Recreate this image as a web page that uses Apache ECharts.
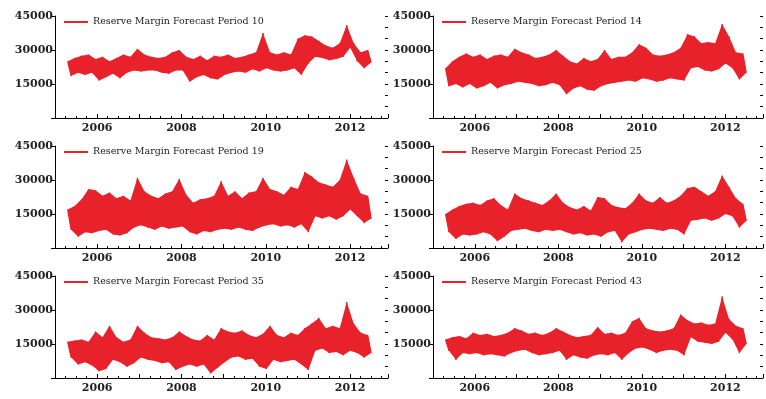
<!DOCTYPE html>
<html><head><meta charset="utf-8">
<script src="https://cdn.jsdelivr.net/npm/echarts@6/dist/echarts.min.js"></script>
<style>html,body{margin:0;padding:0;background:#fff}#c{width:766px;height:399px}</style>
</head><body><div id="c"></div>
<script>
const periods = [10, 14, 19, 25, 35, 43];
const yearTicks = [2006, 2008, 2010, 2012];
const yTickLabels = [15000, 30000, 45000];
const startYear = 2005.3, endYear = 2012.5;

// upper / lower envelope of each series, read about every two months
const hi10 = [25000,26500,27500,28000,26000,27000,25000,26500,28000,27000,30500,28000,27000,26500,27000,29000,30000,27000,26000,27500,25500,27500,27000,28000,26500,27000,28000,29000,37500,29000,28000,29000,28000,35000,36500,36000,34000,32000,31000,33000,41000,33000,29000,30000];
const lo10 = [18500,20000,19000,20000,16500,18000,19500,17500,20000,21000,20500,21000,21000,20000,19500,21000,21000,16000,18000,19000,17500,17000,19000,20000,20500,20000,21500,20500,22000,21000,20500,21000,22000,19000,24000,27000,26500,25500,26000,27000,31000,25000,22000,24500];
const hi14 = [22000,25000,27000,28500,27000,28000,26000,27500,28000,27000,30500,29000,28000,26500,27000,28000,30000,27500,25000,24000,26500,25000,26000,30000,26000,27000,27000,29000,32500,31000,28000,27500,28000,29000,31000,37000,36000,33000,33500,33000,41500,36000,29000,28500];
const lo14 = [14000,15000,13500,15000,13000,14000,15500,13000,14500,15000,16000,15500,15000,14000,14500,15500,14500,10500,13000,14000,12500,12000,14000,15000,15500,16000,16500,16000,17500,17000,16000,16500,17500,17000,16500,22000,22500,21000,20500,21500,24000,22000,17000,20000];
const hi19 = [17000,18500,21500,26000,25500,23000,24500,22000,23000,21000,31000,25000,23000,22000,24000,25000,30500,23500,20000,21500,22000,23000,29500,23000,25000,22000,24500,25000,31000,26000,25000,23500,27000,26000,33500,31500,29000,28000,27000,30000,39000,31000,24000,23000];
const lo19 = [8000,5000,7000,6500,7500,8000,6000,5500,6500,9000,10000,9000,8000,9500,8500,9000,9500,7000,6000,7500,7000,8000,8500,8000,9000,8000,7500,9000,10000,10500,9500,10000,9000,10500,7000,14000,13000,14000,12500,14000,17000,14000,11000,13000];
const hi25 = [15000,17000,18500,19500,20000,19000,21000,22000,19000,17000,24000,22000,21000,20000,19000,21000,24000,20000,18000,17000,18500,16500,22500,22000,19000,18000,17500,20000,24000,21000,20000,22500,20000,21000,23000,26500,27000,25000,23000,25000,32000,27000,22000,19500];
const lo25 = [7000,4000,6000,5500,6000,7000,6000,3000,5000,7500,8000,8500,7500,7000,8000,7500,8000,7000,6000,6500,5500,6000,5000,7000,7500,2500,6000,7000,8000,8500,8000,7500,8500,8000,6000,12000,12500,13000,12000,13000,15000,14000,9000,12000];
const hi35 = [16000,16500,17000,16000,20500,18000,23000,18000,16000,17000,23000,20000,18000,17500,17000,18000,20500,18500,17000,16500,19000,17000,22000,20500,20000,21000,19000,18000,19500,23000,19000,18000,20000,19000,22000,24000,26500,22000,23000,22000,33500,24000,20000,19000];
const lo35 = [9000,6000,7000,5500,3000,4000,8000,7000,5000,6500,9000,8000,7500,6500,7000,3500,5000,6000,5000,6000,2000,4500,7000,9000,9500,8000,8500,5000,4000,8000,7000,7500,8000,6000,3500,12000,13000,11000,11500,10000,12000,11000,9000,11000];
const hi43 = [17000,18000,18500,17500,20000,19000,19500,18500,19000,20000,22000,21000,19500,20000,19000,20000,22000,20500,19000,18000,18500,19000,22500,19500,20000,19000,20000,25000,26500,22000,21000,20500,21000,22000,28000,25500,24000,24500,23500,24000,36000,26000,23000,22000];
const lo43 = [12000,8000,11000,10500,11000,10000,10500,10000,9500,11000,12000,12500,11000,10000,10500,11000,12000,8000,10000,9000,8500,10000,10500,10000,11000,8000,11000,13000,13500,12500,11000,12000,12500,12000,10000,18000,16000,15500,15000,16000,20000,17000,11000,15000];

const highs = [hi10, hi14, hi19, hi25, hi35, hi43];
const lows = [lo10, lo14, lo19, lo25, lo35, lo43];

const RED = '#e8222b';
const FONT = 'DejaVu Serif';
const lefts = [55, 433], tops = [16, 146, 276], W = 333, H = 102;
const grid = [], xAxis = [], yAxis = [], series = [], legend = [];

periods.forEach((p, k) => {
  const col = k % 2, row = Math.floor(k / 2);
  const name = 'Reserve Margin Forecast Period ' + p;
  grid.push({ left: lefts[col], top: tops[row], width: W, height: H });
  xAxis.push({
    type: 'value', gridIndex: k, min: 2005, max: 2012.9, interval: 1,
    axisLine: { lineStyle: { color: '#000', width: 1 } },
    axisTick: { inside: true, length: 4, lineStyle: { color: '#000' } },
    minorTick: { show: true, splitNumber: 4, length: 2, lineStyle: { color: '#000' } },
    splitLine: { show: false },
    axisLabel: {
      margin: 5, color: '#222', fontFamily: FONT, fontWeight: 'bold', fontSize: 11,
      formatter: v => (yearTicks.includes(Math.round(v)) && Math.abs(v - Math.round(v)) < 1e-6) ? String(Math.round(v)) : ''
    }
  });
  yAxis.push({
    type: 'value', gridIndex: k, min: 0, max: 45000, interval: 15000,
    axisLine: { show: true, lineStyle: { color: '#000', width: 1 } },
    axisTick: { show: true, inside: false, length: 4, lineStyle: { color: '#000' } },
    splitLine: { show: false },
    axisLabel: {
      margin: 2, color: '#222', fontFamily: FONT, fontWeight: 'bold', fontSize: 11,
      formatter: v => yTickLabels.includes(v) ? String(v) : ''
    }
  });
  yAxis.push({
    type: 'value', gridIndex: k, min: 0, max: 45000, interval: 5000,
    axisLine: { show: false },
    axisTick: { show: true, inside: true, length: 3, lineStyle: { color: '#000' } },
    axisLabel: { show: false }, splitLine: { show: false }
  });
  const hi = highs[k], lo = lows[k];
  const n = hi.length;
  const dt = (endYear - startYear) / (n - 0.5);
  const data = [], rows = [];
  for (let i = 0; i < n; i++) {
    const xh = startYear + i * dt, xl = startYear + (i + 0.5) * dt;
    data.push([xh, hi[i]]);
    data.push([xl, lo[i]]);
    rows.push([xh, hi[i], xl, lo[i]]);
  }
  // filled band between the read upper and lower envelopes
  series.push({
    type: 'custom', xAxisIndex: k, yAxisIndex: 2 * k, data: rows,
    encode: { x: [0, 2], y: [1, 3] }, silent: true, animation: false, z: 1,
    renderItem: (params, api) => {
      if (params.dataIndex !== 0) return null;
      const top = rows.map(r => api.coord([r[0], r[1]]));
      const bot = rows.map(r => api.coord([r[2], r[3]])).reverse();
      return { type: 'polygon', shape: { points: top.concat(bot) }, style: { fill: RED } };
    }
  });
  series.push({
    type: 'line', name, xAxisIndex: k, yAxisIndex: 2 * k, data, z: 2,
    symbol: 'none', lineStyle: { color: RED, width: 1.2 }, itemStyle: { color: RED },
    animation: false
  });
  legend.push({
    data: [name], left: lefts[col] + 9, top: tops[row] + 1, padding: 0,
    icon: 'rect', itemWidth: 24, itemHeight: 2,
    textStyle: { fontFamily: FONT, fontSize: 9.5, color: '#222' }
  });
});

const chart = echarts.init(document.getElementById('c'));
chart.setOption({ animation: false, backgroundColor: '#fff', grid, xAxis, yAxis, series, legend });
</script>
</body></html>
